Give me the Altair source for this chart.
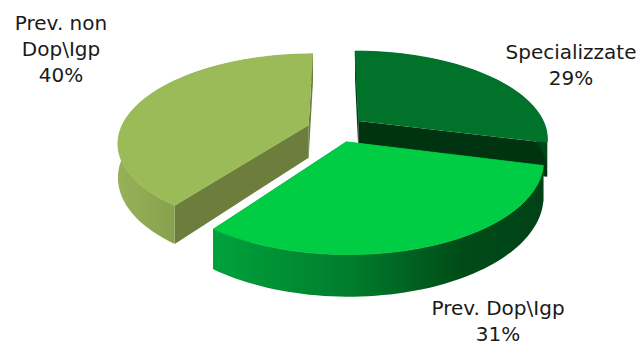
import altair as alt
import pandas as pd

# Slices, clockwise from 12 o'clock
CATEGORIES = ["Specializzate", "Prev. Dop\\Igp", "Prev. non Dop\\Igp"]
SHARES = [29, 31, 40]
LABEL_NAMES = ["Specializzate", "Prev. Dop\\Igp", "Prev. non\nDop\\Igp"]

# Label anchors (x centre, first baseline) in page pixels
LABEL_X = [571, 498, 61]
LABEL_Y = [59, 315, 30]

# Colours per slice
TOP_COLORS = ["#00722A", "#00CC44", "#9BBB59"]
CUT_COLORS = ["#00330F", "#007A2A", "#6C7D3C"]
WALL_FILLS = [
    "#00461A",
    alt.Gradient(gradient="linear", x1=0, y1=0, x2=1, y2=0, stops=[
        alt.GradientStop(color="#00A23C", offset=0),
        alt.GradientStop(color="#007C2C", offset=0.42),
        alt.GradientStop(color="#004C18", offset=0.75),
        alt.GradientStop(color="#004216", offset=1),
    ]),
    alt.Gradient(gradient="linear", x1=0, y1=0, x2=1, y2=0, stops=[
        alt.GradientStop(color="#96B258", offset=0),
        alt.GradientStop(color="#86A04D", offset=0.3),
        alt.GradientStop(color="#6E8040", offset=1),
    ]),
]

# 3-D pie geometry (page pixels)
W, H = 641, 345
CX, CY = 336, 129      # projected pie centre
R = 188                # radius
K = 0.457              # vertical squash of the tilted disc
P = 0.189              # perspective strength
E = 29                 # explode distance
D = 33                 # thickness
N = 64                 # points along each arc

df = pd.DataFrame({"idx": range(len(SHARES)), "category": CATEGORIES, "share": SHARES})

XS = alt.Scale(domain=[0, W], nice=False, zero=False)
YS = alt.Scale(domain=[0, H], nice=False, zero=False, reverse=True)

base = (
    alt.Chart(df)
    .transform_joinaggregate(total="sum(share)")
    .transform_window(cum="sum(share)", sort=[alt.SortField("idx")], frame=[None, 0])
    .transform_calculate(
        a0="2*PI*(datum.cum - datum.share)/datum.total",
        a1="2*PI*datum.cum/datum.total",
    )
    .transform_calculate(mid="(datum.a0 + datum.a1)/2")
    .transform_calculate(ex=f"{E}*sin(datum.mid)", ez=f"{E}*cos(datum.mid)")
)


def project(ch):
    return (
        ch.transform_calculate(
            X=f"datum.ex + datum.u*{R}*sin(datum.th)",
            Wz=f"datum.ez + datum.u*{R}*cos(datum.th)",
        )
        .transform_calculate(f=f"1/(1 + {P}*datum.Wz/{R})")
        .transform_calculate(
            px=f"{CX} + datum.X*datum.f",
            py=f"{CY} - datum.Wz*{K}*datum.f + datum.bot*{D}*datum.f",
        )
    )


def polygon(ch, fill, stroke=None, detail=None):
    kw = dict(fill=fill, strokeJoin="round")
    if stroke is None:
        kw["strokeWidth"] = 0
        kw["stroke"] = "transparent"
    else:
        kw["stroke"] = stroke
        kw["strokeWidth"] = 0.8
    enc = dict(
        x=alt.X("px:Q", scale=XS, axis=None),
        y=alt.Y("py:Q", scale=YS, axis=None),
        order=alt.Order("k:Q"),
    )
    if detail:
        enc["detail"] = alt.Detail(detail)
    return ch.mark_line(**kw).encode(**enc)


def top_face(i):
    ch = (
        base.transform_filter(alt.datum.idx == i)
        .transform_calculate(k=f"sequence(0, {N + 1})")
        .transform_flatten(["k"])
        .transform_calculate(
            u="datum.k == 0 ? 0 : 1",
            th=f"datum.a0 + max(datum.k - 1, 0)/{N - 1}*(datum.a1 - datum.a0)",
            bot="0",
        )
    )
    return polygon(project(ch), TOP_COLORS[i], stroke=TOP_COLORS[i])


def wall(i):
    ch = (
        base.transform_filter(alt.datum.idx == i)
        .transform_calculate(k=f"sequence(0, {2 * N})")
        .transform_flatten(["k"])
        .transform_calculate(
            u="1",
            bot=f"datum.k >= {N} ? 1 : 0",
            t=f"datum.k < {N} ? datum.k/{N - 1} : ({2 * N - 1} - datum.k)/{N - 1}",
        )
        .transform_calculate(th="datum.a0 + datum.t*(datum.a1 - datum.a0)")
    )
    return polygon(project(ch), WALL_FILLS[i])


def cuts(i):
    ch = (
        base.transform_filter(alt.datum.idx == i)
        .transform_calculate(k="sequence(0, 8)")
        .transform_flatten(["k"])
        .transform_calculate(edge="floor(datum.k/4)", j="datum.k % 4")
        .transform_calculate(
            th="datum.edge == 0 ? datum.a0 : datum.a1",
            u="(datum.j == 1 || datum.j == 2) ? 1 : 0",
            bot="datum.j >= 2 ? 1 : 0",
        )
    )
    return polygon(project(ch), CUT_COLORS[i], detail="edge:N")


layers = []
# back slices first, the front slice last
for i in [0, 2, 1]:
    layers += [cuts(i), wall(i), top_face(i)]

label_df = pd.DataFrame({
    "label": [f"{n}\n{s}%" for n, s in zip(LABEL_NAMES, SHARES)],
    "lx": LABEL_X,
    "ly": LABEL_Y,
})
labels = alt.Chart(label_df).mark_text(
    font="DejaVu Sans", fontSize=20, lineBreak="\n", lineHeight=26,
    align="center", baseline="alphabetic", color="#1a1a1a",
).encode(
    x=alt.X("lx:Q", scale=XS, axis=None),
    y=alt.Y("ly:Q", scale=YS, axis=None),
    text="label:N",
)
layers.append(labels)

chart = (
    alt.layer(*layers)
    .properties(width=W, height=H, padding=0, autosize="none", background="white")
    .configure_view(stroke=None)
)

chart.save("out.html", embed_options={"renderer": "svg", "actions": False})
